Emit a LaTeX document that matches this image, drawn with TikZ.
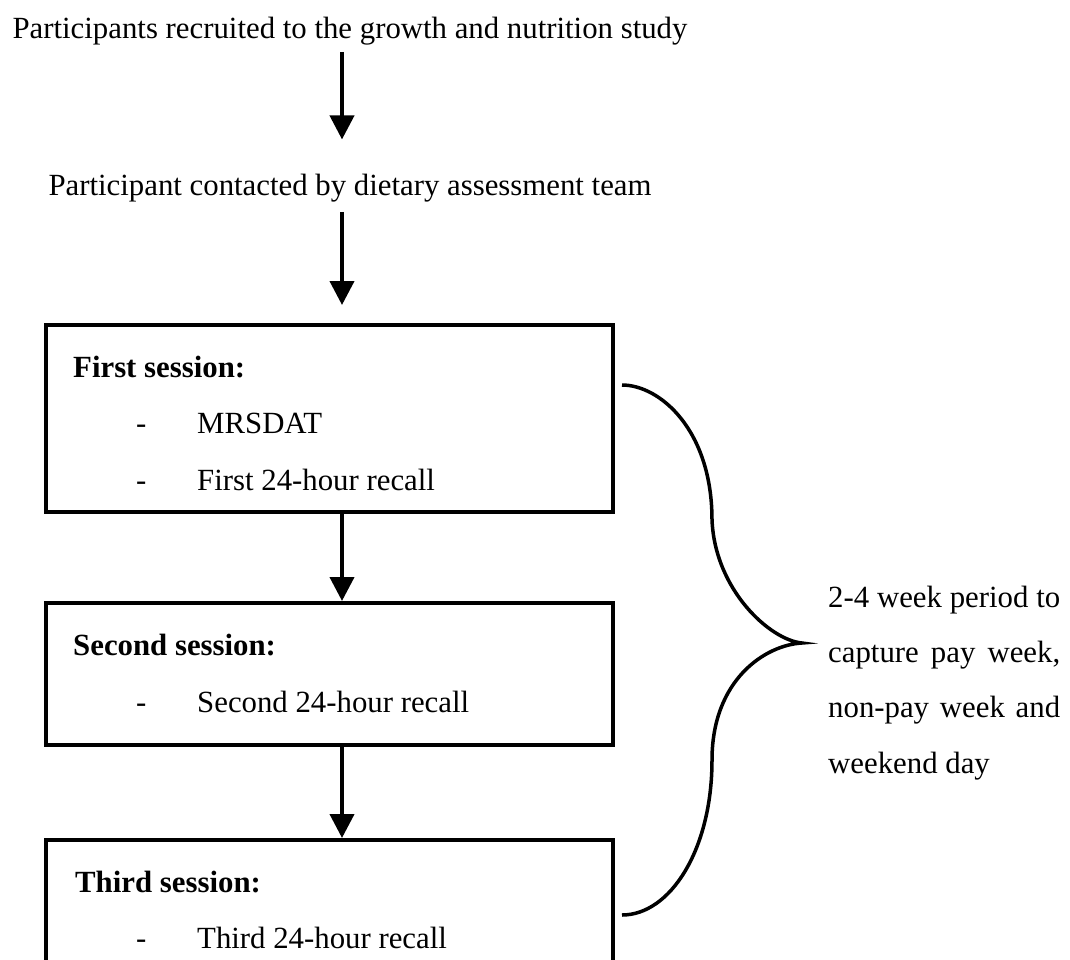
\documentclass[tikz,border=0pt]{standalone}
\usepackage{fontspec}
\setmainfont{Liberation Serif}
\usetikzlibrary{arrows.meta}
\begin{document}
\begin{tikzpicture}[x=1pt,y=-1pt,
  txt/.style={inner sep=0pt, font=\fontsize{30.8pt}{37pt}\selectfont},
  hd/.style={inner sep=0pt, font=\fontsize{30.8pt}{37pt}\selectfont\bfseries},
  box/.style={draw, line width=4pt, minimum width=567pt, inner sep=0pt},
  arr/.style={line width=4pt, -{Triangle[width=24pt,length=24pt]}},
  bracestyle/.style={line width=3.5pt, line join=miter}]
\useasboundingbox (0,0) rectangle (1070,959);
\clip (0,0) rectangle (1070,959);
\fill[white] (0,0) rectangle (1070,959);
\coordinate (ax) at (342,0);
% top texts
\node[txt, anchor=base] (t1) at (350,38) {Participants recruited to the growth and nutrition study};
\node[txt, anchor=base] (t2) at (350,195) {Participant contacted by dietary assessment team};
% boxes
\node[box, minimum height=187pt] (b1) at (329.5,418.5) {};
\node[box, minimum height=142pt] (b2) at (329.5,674) {};
\node[box, minimum height=200pt] (b3) at (329.5,940) {};
% box 1 text
\node[hd, anchor=base west] (h1) at (73,377) {First session:};
\node[txt, anchor=base west] (d11) at (136,433) {-};
\node[txt, anchor=base west] (i11) at (197,433) {MRSDAT};
\node[txt, anchor=base west] (d12) at (136,490) {-};
\node[txt, anchor=base west] (i12) at (197,490) {First 24-hour recall};
% box 2 text
\node[hd, anchor=base west] (h2) at (73,655) {Second session:};
\node[txt, anchor=base west] (d21) at (136,712) {-};
\node[txt, anchor=base west] (i21) at (197,712) {Second 24-hour recall};
% box 3 text
\node[hd, anchor=base west] (h3) at (75,892) {Third session:};
\node[txt, anchor=base west] (d31) at (136,948) {-};
\node[txt, anchor=base west] (i31) at (197,948) {Third 24-hour recall};
% arrows
\draw[arr, shorten <=7pt, shorten >=34pt] (t1.south -| ax) -- (t2.north -| ax);
\draw[arr, shorten <=10pt, shorten >=18pt] (t2.south -| ax) -- (b1.north -| ax);
\draw[arr] (b1.south -| ax) -- (b2.north -| ax);
\draw[arr] (b2.south -| ax) -- (b3.north -| ax);
% brace
\draw[bracestyle] (622,385) .. controls (660,385) and (712,430) .. (712,520)
  .. controls (715,590) and (770,640) .. (802,643)
  .. controls (765,645) and (712,680) .. (712,760)
  .. controls (712,850) and (670,915) .. (622,915);
% right label (base anchor = last line)
\node[inner sep=0pt, anchor=base west, align=left,
      font=\fontsize{30.8pt}{55.3pt}\selectfont] (lbl) at (828,773)
  {\makebox[232pt][s]{2-4 week period to}\\
   \makebox[232pt][s]{capture pay week,}\\
   \makebox[232pt][s]{non-pay week and}\\
   weekend day};
\end{tikzpicture}
\end{document}
